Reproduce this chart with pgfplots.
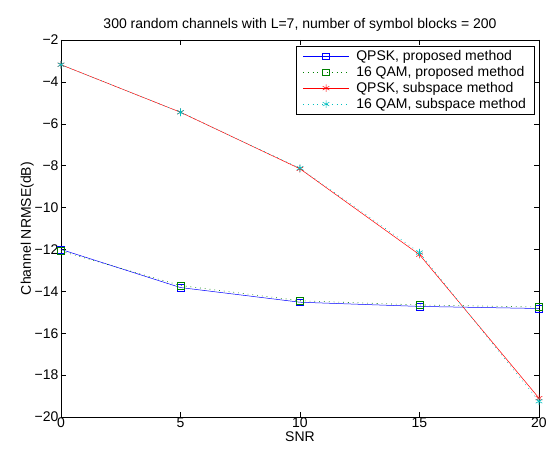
\documentclass[border=0pt]{standalone}
\usepackage{fontspec}
\setmainfont{Liberation Sans}
\usepackage{pgfplots}
\pgfplotsset{compat=1.18}
\definecolor{mblue}{rgb}{0,0,1}
\definecolor{mgreen}{rgb}{0,0.5,0}
\definecolor{mred}{rgb}{1,0,0}
\definecolor{mcyan}{rgb}{0,0.75,0.75}
\begin{document}
\begin{tikzpicture}[x=1pt,y=1pt]
\useasboundingbox (-61,-40) rectangle (486,417);
\begin{axis}[
  scale only axis, width=478pt, height=377pt,
  at={(0,0)}, anchor=south west,
  xmin=0, xmax=20, ymin=-20, ymax=-2,
  xtick={0,5,10,15,20},
  ytick={-20,-18,-16,-14,-12,-10,-8,-6,-4,-2},
  yticklabels={−20,−18,−16,−14,−12,−10,−8,−6,−4,−2},
  xticklabels={0,5,10,15,20},
  tick align=inside, tick pos=both,
  major tick length=5pt,
  tick style={black, line width=0.5pt},
  axis line style={line width=0.6pt},
  ticklabel style={font=\fontsize{14}{16}\selectfont},
  xticklabel style={yshift=3pt},
  yticklabel style={xshift=1pt},
  xlabel={SNR}, ylabel={Channel NRMSE(dB)},
  label style={font=\fontsize{14}{16}\selectfont},
  xlabel style={yshift=3pt},
  ylabel style={yshift=-6pt},
  title={300 random channels with L=7, number of symbol blocks = 200},
  title style={font=\fontsize{14}{16}\selectfont, yshift=-1pt},
  legend style={at={(0.99,0.985)}, anchor=north east, draw=black, line width=0.6pt,
    font=\fontsize{14}{16}\selectfont, inner xsep=6pt, inner ysep=2.5pt, row sep=0.3pt,
    legend cell align=left,
    /tikz/every odd column/.append style={column sep=5pt}},
  legend image code/.code={\draw[mark repeat=2,mark phase=2,#1] plot coordinates {(0pt,0pt)(23pt,0pt)(46pt,0pt)};},
  legend image post style={line width=0.5pt},
]
\addplot[mblue, line width=0.5pt, mark=square, mark size=3.4pt, mark options={solid}]
  coordinates {(0,-12.0) (5,-13.82) (10,-14.52) (15,-14.72) (20,-14.82)};
\addlegendentry{QPSK, proposed method}
\addplot[mgreen, dash pattern=on 0.8pt off 4pt, line width=0.6pt, mark=square, mark size=3.4pt, mark options={solid}]
  coordinates {(0,-12.08) (5,-13.72) (10,-14.45) (15,-14.65) (20,-14.75)};
\addlegendentry{16 QAM, proposed method}
\addplot[mred, line width=0.5pt, mark=asterisk, mark size=3.8pt, mark options={solid}]
  coordinates {(0,-3.18) (5,-5.45) (10,-8.15) (15,-12.25) (20,-19.1)};
\addlegendentry{QPSK, subspace method}
\addplot[mcyan, dash pattern=on 0.8pt off 4pt, line width=0.6pt, mark=asterisk, mark size=3.8pt, mark options={solid}]
  coordinates {(0,-3.18) (5,-5.45) (10,-8.12) (15,-12.15) (20,-19.25)};
\addlegendentry{16 QAM, subspace method}
\end{axis}
\end{tikzpicture}
\end{document}
